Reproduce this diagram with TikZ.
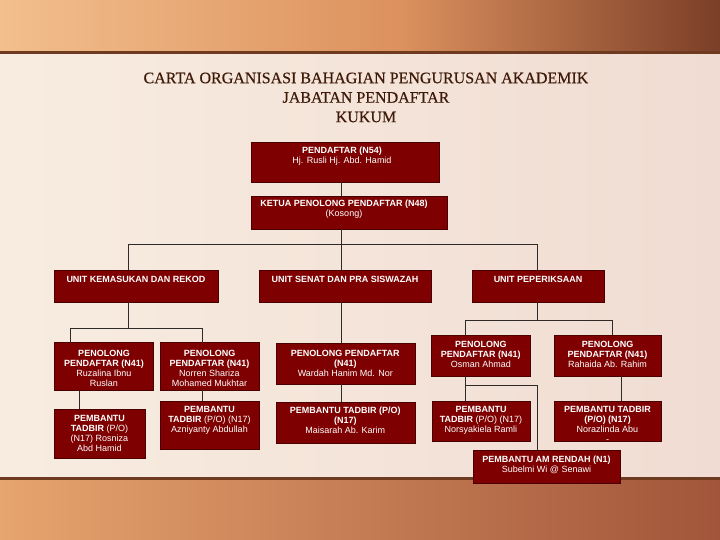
\documentclass[tikz,border=0pt]{standalone}
\usepackage{fontspec}
\setmainfont{Liberation Serif}
\newfontfamily\titlefont[FakeBold=0.4]{Liberation Serif}
\newfontfamily\arialfont{Liberation Sans}
\usetikzlibrary{shadows}
\definecolor{boxred}{HTML}{7E0000}
\definecolor{boxedge}{HTML}{4A0000}
\definecolor{linec}{HTML}{2E2A28}
\definecolor{titlec}{HTML}{3E1A08}
\definecolor{topL}{HTML}{F2BF8D}
\definecolor{topM}{HTML}{DC915E}
\definecolor{topR}{HTML}{7B3E27}
\definecolor{midL}{HTML}{F8ECE0}
\definecolor{midR}{HTML}{F0DCD2}
\definecolor{botL}{HTML}{E6A46E}
\definecolor{botM}{HTML}{D08050}
\definecolor{botR}{HTML}{A2553A}
\definecolor{bandline}{HTML}{6E3A20}
\newcommand{\orgbox}[5]{\node[box, minimum width={(#4-#2)*1pt}, minimum height={(#5-#3)*1pt}] (#1) at (#2,#3) {};}
\begin{document}
\begin{tikzpicture}[x=1pt,y=-1pt,
  box/.style={draw=boxedge, line width=0.6pt, fill=boxred, inner sep=0pt, outer sep=0pt, anchor=north west,
    drop shadow={shadow xshift=1.2pt, shadow yshift=-1.2pt, opacity=0.3}},
  tb/.style={text=white, font=\arialfont\fontsize{9}{10}\selectfont, align=center, inner sep=0pt},
  conn/.style={draw=linec, line width=0.8pt}]
\useasboundingbox (0,0) rectangle (720,540);
% background
\fill[left color=topL, right color=topM] (0,0) rectangle (400,52);
\fill[left color=topM, right color=topR] (400,0) rectangle (720,52);
\fill[left color=midL, right color=midR] (0,52) rectangle (720,478);
\fill[left color=botL, middle color=botM, right color=botR] (0,478) rectangle (720,540);
\fill[bandline] (0,51) rectangle (720,54);
\fill[bandline] (0,476.5) rectangle (720,479.5);
% title
\node[font=\titlefont\fontsize{16}{19.5}\selectfont, text=titlec, align=center, inner sep=0pt] (title) at (366,97.5)
  {CARTA ORGANISASI BAHAGIAN PENGURUSAN AKADEMIK\\JABATAN PENDAFTAR\\KUKUM};
% x / y reference coordinates for connectors
\coordinate (cA) at (341,0);
\coordinate (cK) at (128,0);
\coordinate (cL1) at (70.5,0);
\coordinate (cL2) at (79,0);
\coordinate (cR1) at (202,0);
\coordinate (cP) at (537,0);
\coordinate (cO) at (465,0);
\coordinate (cRh) at (612,0);
\coordinate (cRh2) at (621,0);
\coordinate (j1) at (0,244);
\coordinate (j2) at (0,328);
\coordinate (j3) at (0,320);
\coordinate (j4) at (0,385);
% boxes
\orgbox{pend}{251}{142}{439}{182}
\orgbox{ketua}{251}{196}{447}{229}
\orgbox{kem}{54}{270}{218}{302}
\orgbox{senat}{259}{270}{431}{302}
\orgbox{pep}{472}{270}{604}{302}
\orgbox{pl1}{54}{342.5}{153}{390}
\orgbox{pl2}{160}{342.5}{259}{390}
\orgbox{pb1}{54}{409}{145}{458}
\orgbox{pb2}{160}{401}{259}{449}
\orgbox{ps}{276}{343}{415}{384}
\orgbox{psb}{276}{402}{415}{443}
\orgbox{po1}{431}{335}{530}{376}
\orgbox{po2}{554}{335}{661}{376}
\orgbox{pob1}{432}{401}{530}{441}
\orgbox{pob2}{554}{401}{661}{441}
\orgbox{am}{473}{450}{620}{483}
% connectors
\draw[conn] (pend.south -| cA) -- (ketua.north -| cA);
\draw[conn] (ketua.south -| cA) -- (senat.north -| cA);
\draw[conn] (cK |- kem.north) -- (cK |- j1) -- (cP |- j1) -- (cP |- pep.north);
\draw[conn] (kem.south -| cK) -- (cK |- j2);
\draw[conn] (cL1 |- pl1.north) -- (cL1 |- j2) -- (cR1 |- j2) -- (cR1 |- pl2.north);
\draw[conn] (pl1.south -| cL2) -- (pb1.north -| cL2);
\draw[conn] (pl2.south -| cR1) -- (pb2.north -| cR1);
\draw[conn] (senat.south -| cA) -- (ps.north -| cA);
\draw[conn] (ps.south -| cA) -- (psb.north -| cA);
\draw[conn] (pep.south -| cP) -- (cP |- j3);
\draw[conn] (cO |- po1.north) -- (cO |- j3) -- (cRh |- j3) -- (cRh |- po2.north);
\draw[conn] (po1.south -| cO) -- (pob1.north -| cO);
\draw[conn] (cO |- j4) -- (cP |- j4) -- (cP |- am.north);
\draw[conn] (po2.south -| cRh2) -- (pob2.north -| cRh2);
% texts
\node[tb] (t-pend) at (342,156) {\textbf{PENDAFTAR (N54)}\\Hj. Rusli Hj. Abd. Hamid};
\node[tb] (t-ketua) at (344,209.5) {\textbf{KETUA PENOLONG PENDAFTAR (N48)}\\(Kosong)};
\node[tb] (t-kem) at (136,279.5) {\textbf{UNIT KEMASUKAN DAN REKOD}};
\node[tb] (t-senat) at (345,279.5) {\textbf{UNIT SENAT DAN PRA SISWAZAH}};
\node[tb] (t-pep) at (538,279.5) {\textbf{UNIT PEPERIKSAAN}};
\node[tb] (t-pl1) at (104,368) {\textbf{PENOLONG}\\\textbf{PENDAFTAR (N41)}\\Ruzalina Ibnu\\Ruslan};
\node[tb] (t-pl2) at (209.5,368) {\textbf{PENOLONG}\\\textbf{PENDAFTAR (N41)}\\Norren Shariza\\Mohamed Mukhtar};
\node[tb] (t-pb1) at (99.5,433.3) {\textbf{PEMBANTU}\\\textbf{TADBIR} (P/O)\\(N17) Rosniza\\Abd Hamid};
\node[tb] (t-pb2) at (209.5,420) {\textbf{PEMBANTU}\\\textbf{TADBIR} (P/O) (N17)\\Azniyanty Abdullah};
\node[tb] (t-ps) at (345.3,363.3) {\textbf{PENOLONG PENDAFTAR}\\\textbf{(N41)}\\Wardah Hanim Md. Nor};
\node[tb] (t-psb) at (345.3,419.8) {\textbf{PEMBANTU TADBIR (P/O)}\\\textbf{(N17)}\\Maisarah Ab. Karim};
\node[tb] (t-po1) at (480.8,354.7) {\textbf{PENOLONG}\\\textbf{PENDAFTAR (N41)}\\Osman Ahmad};
\node[tb] (t-po2) at (607.5,354.7) {\textbf{PENOLONG}\\\textbf{PENDAFTAR (N41)}\\Rahaida Ab. Rahim};
\node[tb] (t-pob1) at (481,420) {\textbf{PEMBANTU}\\\textbf{TADBIR} (P/O) (N17)\\Norsyakiela Ramli};
\node[tb] (t-pob2) at (607.5,424) {\textbf{PEMBANTU TADBIR}\\\textbf{(P/O) (N17)}\\Norazlinda Abu\\-};
\node[tb] (t-am) at (546.5,464.5) {\textbf{PEMBANTU AM RENDAH (N1)}\\Subelmi Wi @ Senawi};
\end{tikzpicture}
\end{document}
